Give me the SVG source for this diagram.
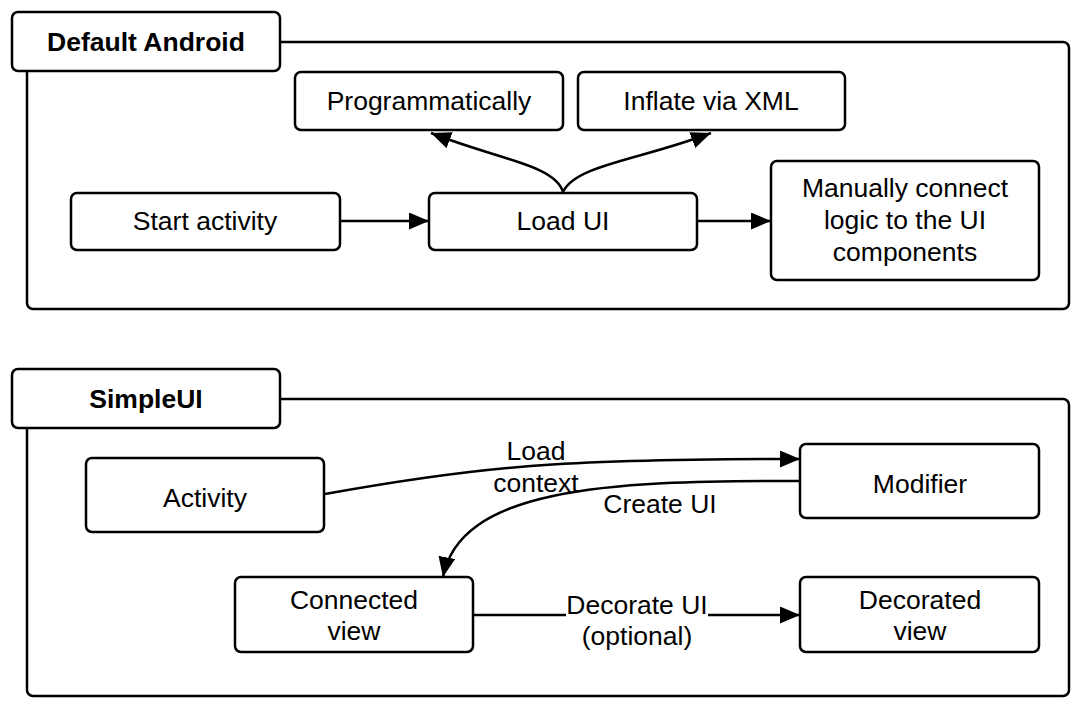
<svg xmlns="http://www.w3.org/2000/svg" width="1082" height="709" viewBox="0 0 1082 709">
<defs>
<style>
.box{fill:#fff;stroke:#000;stroke-width:2.5}
.t{font-family:"Liberation Sans",Arial,sans-serif;font-size:26.5px;fill:#000;text-anchor:middle}
.b{font-weight:bold}
.c{fill:none;stroke:#000;stroke-width:2.5}
</style>
<marker id="ah" markerUnits="userSpaceOnUse" markerWidth="22" markerHeight="18" refX="20" refY="8.5" orient="auto">
<path d="M0,0 L20,8.5 L0,17 Z" fill="#000"/>
</marker>
</defs>
<rect width="1082" height="709" fill="#fff"/>

<g id="container-default">
<rect class="box" x="27" y="42" width="1042" height="267" rx="6"/>
</g>
<g id="tab-default">
<rect class="box" x="12" y="12" width="268" height="59" rx="6"/>
<text class="t b" x="146" y="51">Default Android</text>
</g>

<g id="container-simple">
<rect class="box" x="27" y="399" width="1042" height="297" rx="6"/>
</g>
<g id="tab-simple">
<rect class="box" x="12" y="369" width="268" height="59" rx="6"/>
<text class="t b" x="146" y="408">SimpleUI</text>
</g>

<g id="connectors">
<path class="c" d="M340,221 L429,221" marker-end="url(#ah)"/>
<path class="c" d="M697,221 L771,221" marker-end="url(#ah)"/>
<path class="c" d="M563,192 C555,165 500,160 431,133" marker-end="url(#ah)"/>
<path class="c" d="M563,192 C575,165 640,160 711,133" marker-end="url(#ah)"/>
<path class="c" d="M325,494 C480,466 560,459 800,459" marker-end="url(#ah)"/>
<path class="c" d="M800,481 C600,480 460,490 443,577" marker-end="url(#ah)"/>
<path class="c" d="M473,615 L800,615" marker-end="url(#ah)"/>
<rect x="566" y="592" width="142" height="26" fill="#fff"/>
<text class="t" x="536" y="460">Load</text>
<text class="t" x="536" y="492">context</text>
<text class="t" x="660" y="513">Create UI</text>
<text class="t" x="637" y="614">Decorate UI</text>
<text class="t" x="637" y="645">(optional)</text>
</g>

<g id="programmatically">
<rect class="box" x="295" y="72" width="268" height="58" rx="6"/>
<text class="t" x="429" y="110">Programmatically</text>
</g>
<g id="inflate">
<rect class="box" x="578" y="72" width="267" height="58" rx="6"/>
<text class="t" x="711" y="110">Inflate via XML</text>
</g>
<g id="start-activity">
<rect class="box" x="71" y="193" width="269" height="57" rx="6"/>
<text class="t" x="205" y="230">Start activity</text>
</g>
<g id="load-ui">
<rect class="box" x="429" y="193" width="268" height="57" rx="6"/>
<text class="t" x="563" y="230">Load UI</text>
</g>
<g id="manually-connect">
<rect class="box" x="771" y="161" width="268" height="119" rx="6"/>
<text class="t" x="905" y="197">Manually connect</text>
<text class="t" x="905" y="229">logic to the UI</text>
<text class="t" x="905" y="261">components</text>
</g>

<g id="activity">
<rect class="box" x="86" y="458" width="238" height="74" rx="6"/>
<text class="t" x="205" y="507">Activity</text>
</g>
<g id="modifier">
<rect class="box" x="800" y="444" width="239" height="74" rx="6"/>
<text class="t" x="920" y="493">Modifier</text>
</g>
<g id="connected-view">
<rect class="box" x="235" y="577" width="238" height="75" rx="6"/>
<text class="t" x="354" y="609">Connected</text>
<text class="t" x="354" y="640">view</text>
</g>
<g id="decorated-view">
<rect class="box" x="800" y="577" width="239" height="75" rx="6"/>
<text class="t" x="920" y="609">Decorated</text>
<text class="t" x="920" y="640">view</text>
</g>
</svg>
